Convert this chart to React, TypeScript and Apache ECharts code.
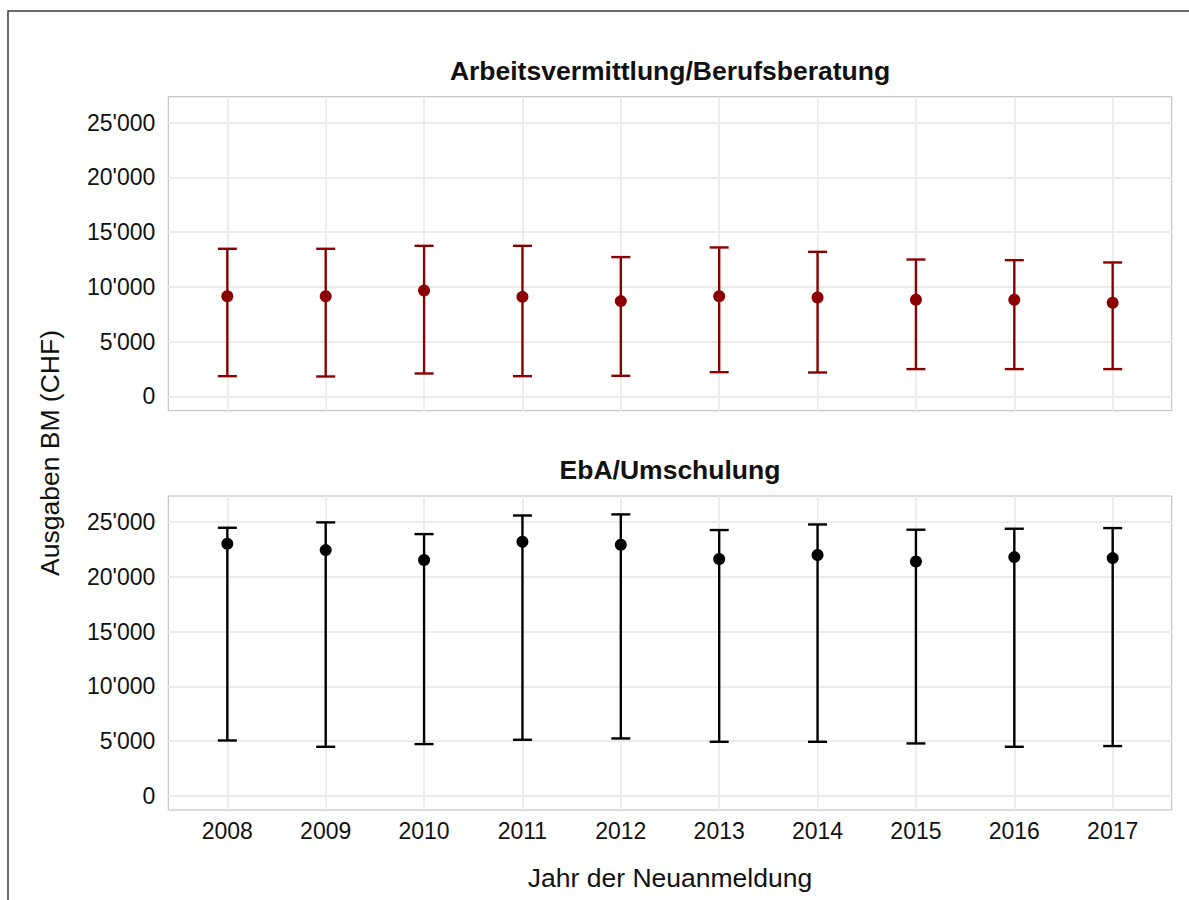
import React, { useEffect, useRef } from "react";
import * as echarts from "echarts";

const years = [2008, 2009, 2010, 2011, 2012, 2013, 2014, 2015, 2016, 2017];

const panelTitles = ["Arbeitsvermittlung/Berufsberatung", "EbA/Umschulung"];

const avMean = [9160, 9160, 9680, 9100, 8710, 9160, 9040, 8830, 8830, 8560];
const avLow = [1855, 1825, 2100, 1855, 1885, 2220, 2190, 2500, 2500, 2500];
const avHigh = [13490, 13490, 13760, 13760, 12730, 13610, 13210, 12510, 12450, 12240];

const ebaMean = [23020, 22440, 21530, 23200, 22930, 21620, 21985, 21400, 21800, 21710];
const ebaLow = [5050, 4475, 4720, 5115, 5235, 4930, 4930, 4780, 4475, 4540];
const ebaHigh = [24480, 24970, 23900, 25600, 25700, 24270, 24780, 24300, 24390, 24450];

const yTitle = "Ausgaben BM (CHF)";
const xTitle = "Jahr der Neuanmeldung";

const RED = "#8b0000";
const BLACK = "#000000";
const FONT = "'Liberation Sans', Arial, Helvetica, sans-serif";

const fmtThousands = (v: number) =>
  String(Math.round(v)).replace(/\B(?=(\d{3})+(?!\d))/g, "'");

function errorBarSeries(idx: number, low: number[], high: number[], color: string) {
  return {
    type: "custom",
    xAxisIndex: idx,
    yAxisIndex: idx,
    data: years.map((y, i) => [y, low[i], high[i]]),
    z: 3,
    renderItem: (params: any, api: any) => {
      const x = api.value(0);
      const pLo = api.coord([x, api.value(1)]);
      const pHi = api.coord([x, api.value(2)]);
      const hw = 9.5;
      const style = { stroke: color, lineWidth: 2.4, fill: "none" };
      return {
        type: "group",
        children: [
          { type: "line", shape: { x1: pLo[0], y1: pLo[1], x2: pHi[0], y2: pHi[1] }, style },
          { type: "line", shape: { x1: pHi[0] - hw, y1: pHi[1], x2: pHi[0] + hw, y2: pHi[1] }, style },
          { type: "line", shape: { x1: pLo[0] - hw, y1: pLo[1], x2: pLo[0] + hw, y2: pLo[1] }, style },
        ],
      };
    },
  };
}

function meanSeries(idx: number, mean: number[], color: string) {
  return {
    type: "scatter",
    xAxisIndex: idx,
    yAxisIndex: idx,
    data: years.map((y, i) => [y, mean[i]]),
    symbol: "circle",
    symbolSize: 12,
    itemStyle: { color, opacity: 1 },
    z: 4,
  };
}

function makeXAxis(idx: number, showLabels: boolean) {
  return {
    type: "value",
    gridIndex: idx,
    min: 2007.4,
    max: 2017.6,
    splitNumber: 10,
    minInterval: 1,
    maxInterval: 1,
    axisLine: { show: false },
    axisTick: { show: false },
    axisLabel: {
      show: showLabels,
      showMinLabel: false,
      showMaxLabel: false,
      margin: 9,
      fontSize: 23,
      fontFamily: FONT,
      color: "#111111",
      formatter: (v: number) => String(Math.round(v)),
    },
    splitLine: {
      show: true,
      showMinLine: false,
      showMaxLine: false,
      lineStyle: { color: "#ebebeb", width: 1.8 },
    },
  };
}

function makeYAxis(idx: number) {
  return {
    type: "value",
    gridIndex: idx,
    min: -1300,
    max: 27380,
    splitNumber: 5,
    axisLine: { show: false },
    axisTick: { show: false },
    axisLabel: {
      showMinLabel: false,
      showMaxLabel: false,
      margin: 13,
      fontSize: 23,
      fontFamily: FONT,
      color: "#111111",
      formatter: (v: number) => fmtThousands(v),
    },
    splitLine: {
      show: true,
      showMinLine: false,
      showMaxLine: false,
      lineStyle: { color: "#ebebeb", width: 1.8 },
    },
  };
}

export default function App() {
  const ref = useRef<HTMLDivElement>(null);

  useEffect(() => {
    if (!ref.current) return;
    const chart = echarts.init(ref.current, undefined, { renderer: "svg" });
    const gridLeft = 168.3;
    const gridWidth = 1003.4;
    const cx = gridLeft + gridWidth / 2;
    chart.setOption({
      animation: false,
      backgroundColor: "#ffffff",
      grid: [
        { left: gridLeft, top: 96.7, width: gridWidth, height: 314, show: true, borderColor: "#b8b8b8", borderWidth: 1, backgroundColor: "transparent" },
        { left: gridLeft, top: 496, width: gridWidth, height: 314, show: true, borderColor: "#b8b8b8", borderWidth: 1, backgroundColor: "transparent" },
      ],
      xAxis: [makeXAxis(0, false), makeXAxis(1, true)],
      yAxis: [makeYAxis(0), makeYAxis(1)],
      series: [
        errorBarSeries(0, avLow, avHigh, RED),
        meanSeries(0, avMean, RED),
        errorBarSeries(1, ebaLow, ebaHigh, BLACK),
        meanSeries(1, ebaMean, BLACK),
      ],
      graphic: [
        {
          type: "rect",
          shape: { x: 8, y: 11, width: 1300, height: 1000 },
          style: { fill: "none", stroke: "#3a3a3a", lineWidth: 1.5 },
          silent: true,
          z: 10,
        },
        {
          type: "text",
          x: cx,
          y: 71,
          style: { text: panelTitles[0], font: `bold 26.5px ${FONT}`, fill: "#111111", textAlign: "center", textVerticalAlign: "middle" },
        },
        {
          type: "text",
          x: cx,
          y: 470,
          style: { text: panelTitles[1], font: `bold 26.5px ${FONT}`, fill: "#111111", textAlign: "center", textVerticalAlign: "middle" },
        },
        {
          type: "text",
          x: cx,
          y: 878,
          style: { text: xTitle, font: `26.5px ${FONT}`, fill: "#111111", textAlign: "center", textVerticalAlign: "middle" },
        },
        {
          type: "text",
          x: 50,
          y: 453,
          rotation: Math.PI / 2,
          style: { text: yTitle, font: `26.5px ${FONT}`, fill: "#111111", textAlign: "center", textVerticalAlign: "middle" },
        },
      ],
    });
    return () => chart.dispose();
  }, []);

  return (
    <div
      ref={ref}
      style={{ position: "absolute", left: 0, top: 0, width: 1189, height: 900 }}
    />
  );
}
